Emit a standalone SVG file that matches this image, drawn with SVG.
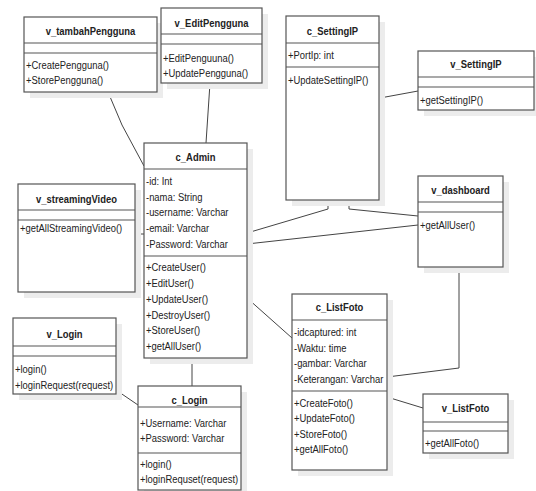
<svg xmlns="http://www.w3.org/2000/svg" width="536" height="491" viewBox="0 0 536 491">
  <style>
    .shadow { fill: #ececec; stroke: none; }
    .box { fill: #ffffff; stroke: #555555; stroke-width: 1.2; }
    .sep { stroke: #555555; stroke-width: 1.2; }
    .title { font-family: "Liberation Sans", Arial, sans-serif; font-size: 11.5px; font-weight: bold; fill: #222222; text-anchor: middle; }
    .member { font-family: "Liberation Sans", Arial, sans-serif; font-size: 11.5px; fill: #222222; }
    .link { fill: none; stroke: #444444; stroke-width: 1; }
  </style>

  <!-- associations between classes -->
  <g id="connectors">
    <polyline class="link" points="108,92 122,125 144,166"/>
    <line class="link" x1="210" y1="83" x2="206" y2="143"/>
    <line class="link" x1="380" y1="98" x2="418" y2="91"/>
    <polyline class="link" points="247,233 328,209 328,200"/>
    <polyline class="link" points="349,200 349,209 418,216"/>
    <line class="link" x1="247" y1="244" x2="418" y2="225"/>
    <line class="link" x1="135" y1="234" x2="144" y2="234"/>
    <line class="link" x1="247" y1="298" x2="292" y2="338"/>
    <line class="link" x1="192" y1="358" x2="192" y2="386"/>
    <line class="link" x1="116" y1="390" x2="138" y2="405"/>
    <polyline class="link" points="459,267 459,368 387,377"/>
    <line class="link" x1="387" y1="397" x2="423" y2="408"/>
  </g>

  <!-- text is set in a condensed cut: each label is squeezed horizontally -->
  <g id="v_tambahPengguna">
    <rect class="shadow" x="30" y="23" width="133" height="75"/>
    <rect class="box" x="24" y="17" width="133" height="75"/>
    <line class="sep" x1="24" y1="43" x2="157" y2="43"/>
    <line class="sep" x1="24" y1="53" x2="157" y2="53"/>
    <text class="title" transform="translate(90.5,35) scale(0.82,1)">v_tambahPengguna</text>
    <text class="member" transform="translate(26,69) scale(0.82,1)">+CreatePengguna()</text>
    <text class="member" transform="translate(26,84) scale(0.82,1)">+StorePengguna()</text>
  </g>

  <g id="v_EditPengguna">
    <rect class="shadow" x="167" y="14" width="101" height="75"/>
    <rect class="box" x="161" y="8" width="101" height="75"/>
    <line class="sep" x1="161" y1="34" x2="262" y2="34"/>
    <line class="sep" x1="161" y1="44" x2="262" y2="44"/>
    <text class="title" transform="translate(211.5,27) scale(0.82,1)">v_EditPengguna</text>
    <text class="member" transform="translate(163,62) scale(0.82,1)">+EditPenguuna()</text>
    <text class="member" transform="translate(163,77) scale(0.82,1)">+UpdatePengguna()</text>
  </g>

  <g id="c_SettingIP">
    <rect class="shadow" x="292" y="22" width="93" height="184"/>
    <rect class="box" x="286" y="16" width="93" height="184"/>
    <line class="sep" x1="286" y1="43" x2="379" y2="43"/>
    <line class="sep" x1="286" y1="67" x2="379" y2="67"/>
    <text class="title" transform="translate(332.5,35) scale(0.82,1)">c_SettingIP</text>
    <text class="member" transform="translate(288,59) scale(0.82,1)">+PortIp: int</text>
    <text class="member" transform="translate(288,84) scale(0.82,1)">+UpdateSettingIP()</text>
  </g>

  <g id="v_SettingIP">
    <rect class="shadow" x="424" y="57" width="116" height="59"/>
    <rect class="box" x="418" y="51" width="116" height="59"/>
    <line class="sep" x1="418" y1="77" x2="534" y2="77"/>
    <line class="sep" x1="418" y1="87" x2="534" y2="87"/>
    <text class="title" transform="translate(476,68) scale(0.82,1)">v_SettingIP</text>
    <text class="member" transform="translate(420,104) scale(0.82,1)">+getSettingIP()</text>
  </g>

  <g id="c_Admin">
    <rect class="shadow" x="150" y="149" width="103" height="215"/>
    <rect class="box" x="144" y="143" width="103" height="215"/>
    <line class="sep" x1="144" y1="169" x2="247" y2="169"/>
    <line class="sep" x1="144" y1="256" x2="247" y2="256"/>
    <text class="title" transform="translate(195.5,161) scale(0.82,1)">c_Admin</text>
    <text class="member" transform="translate(146,185) scale(0.82,1)">-id: Int</text>
    <text class="member" transform="translate(146,200.5) scale(0.82,1)">-nama: String</text>
    <text class="member" transform="translate(146,216) scale(0.82,1)">-username: Varchar</text>
    <text class="member" transform="translate(146,232) scale(0.82,1)">-email: Varchar</text>
    <text class="member" transform="translate(146,247.5) scale(0.82,1)">-Password: Varchar</text>
    <text class="member" transform="translate(146,271) scale(0.82,1)">+CreateUser()</text>
    <text class="member" transform="translate(146,287) scale(0.82,1)">+EditUser()</text>
    <text class="member" transform="translate(146,303) scale(0.82,1)">+UpdateUser()</text>
    <text class="member" transform="translate(146,318.5) scale(0.82,1)">+DestroyUser()</text>
    <text class="member" transform="translate(146,334) scale(0.82,1)">+StoreUser()</text>
    <text class="member" transform="translate(146,350) scale(0.82,1)">+getAllUser()</text>
  </g>

  <g id="v_streamingVideo">
    <rect class="shadow" x="24" y="190" width="117" height="108"/>
    <rect class="box" x="18" y="184" width="117" height="108"/>
    <line class="sep" x1="18" y1="210" x2="135" y2="210"/>
    <line class="sep" x1="18" y1="220" x2="135" y2="220"/>
    <text class="title" transform="translate(76.5,203) scale(0.82,1)">v_streamingVideo</text>
    <text class="member" transform="translate(20,232) scale(0.82,1)">+getAllStreamingVideo()</text>
  </g>

  <g id="v_dashboard">
    <rect class="shadow" x="424" y="182" width="85" height="91"/>
    <rect class="box" x="418" y="176" width="85" height="91"/>
    <line class="sep" x1="418" y1="202" x2="503" y2="202"/>
    <line class="sep" x1="418" y1="212" x2="503" y2="212"/>
    <text class="title" transform="translate(460.5,194) scale(0.82,1)">v_dashboard</text>
    <text class="member" transform="translate(420,229) scale(0.82,1)">+getAllUser()</text>
  </g>

  <g id="v_Login">
    <rect class="shadow" x="19" y="324" width="103" height="76"/>
    <rect class="box" x="13" y="318" width="103" height="76"/>
    <line class="sep" x1="13" y1="346" x2="116" y2="346"/>
    <line class="sep" x1="13" y1="356" x2="116" y2="356"/>
    <text class="title" transform="translate(64.5,338) scale(0.82,1)">v_Login</text>
    <text class="member" transform="translate(15,373) scale(0.82,1)">+login()</text>
    <text class="member" transform="translate(15,389) scale(0.82,1)">+loginRequest(request)</text>
  </g>

  <g id="c_Login">
    <rect class="shadow" x="144" y="392" width="103" height="104"/>
    <rect class="box" x="138" y="386" width="103" height="104"/>
    <line class="sep" x1="138" y1="407" x2="241" y2="407"/>
    <line class="sep" x1="138" y1="453" x2="241" y2="453"/>
    <text class="title" transform="translate(189.5,404) scale(0.82,1)">c_Login</text>
    <text class="member" transform="translate(140,427) scale(0.82,1)">+Username: Varchar</text>
    <text class="member" transform="translate(140,442) scale(0.82,1)">+Password: Varchar</text>
    <text class="member" transform="translate(140,468) scale(0.82,1)">+login()</text>
    <text class="member" transform="translate(140,483) scale(0.82,1)">+loginRequset(request)</text>
  </g>

  <g id="c_ListFoto">
    <rect class="shadow" x="298" y="300" width="95" height="176"/>
    <rect class="box" x="292" y="294" width="95" height="176"/>
    <line class="sep" x1="292" y1="320" x2="387" y2="320"/>
    <line class="sep" x1="292" y1="391" x2="387" y2="391"/>
    <text class="title" transform="translate(339.5,311) scale(0.82,1)">c_ListFoto</text>
    <text class="member" transform="translate(294,336) scale(0.82,1)">-idcaptured: int</text>
    <text class="member" transform="translate(294,352) scale(0.82,1)">-Waktu: time</text>
    <text class="member" transform="translate(294,367) scale(0.82,1)">-gambar: Varchar</text>
    <text class="member" transform="translate(294,383) scale(0.82,1)">-Keterangan: Varchar</text>
    <text class="member" transform="translate(294,407) scale(0.82,1)">+CreateFoto()</text>
    <text class="member" transform="translate(294,422) scale(0.82,1)">+UpdateFoto()</text>
    <text class="member" transform="translate(294,438) scale(0.82,1)">+StoreFoto()</text>
    <text class="member" transform="translate(294,453) scale(0.82,1)">+getAllFoto()</text>
  </g>

  <g id="v_ListFoto">
    <rect class="shadow" x="429" y="400" width="85" height="59"/>
    <rect class="box" x="423" y="394" width="85" height="59"/>
    <line class="sep" x1="423" y1="422" x2="508" y2="422"/>
    <line class="sep" x1="423" y1="431" x2="508" y2="431"/>
    <text class="title" transform="translate(465.5,412) scale(0.82,1)">v_ListFoto</text>
    <text class="member" transform="translate(425,447) scale(0.82,1)">+getAllFoto()</text>
  </g>
</svg>
